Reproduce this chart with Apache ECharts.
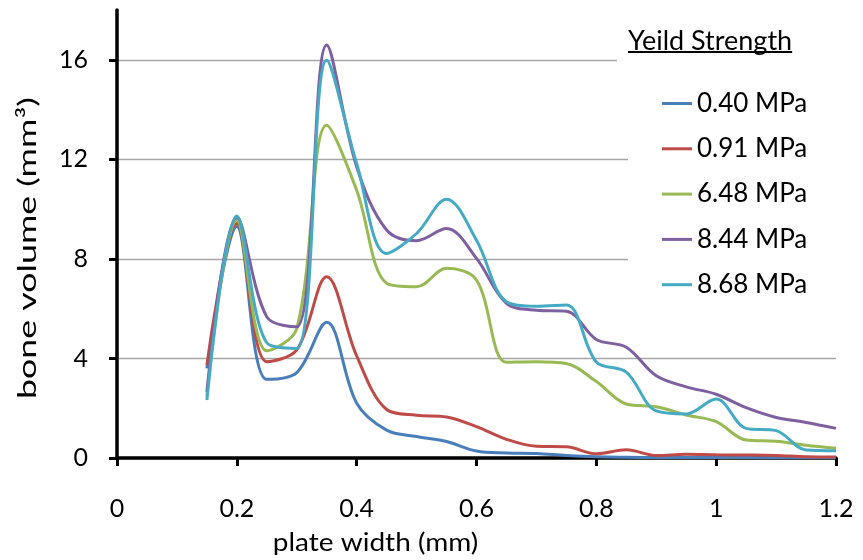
<!DOCTYPE html>
<html>
<head>
<meta charset="utf-8">
<script src="https://cdn.jsdelivr.net/npm/echarts@6/dist/echarts.min.js"></script>
<style>
  html, body { margin: 0; padding: 0; background: #fff; }
  #chart { width: 863px; height: 560px; }
</style>
</head>
<body>
<div id="chart"></div>
<script>
// plate width (mm) at which bone volume was sampled
const plateWidth = [0.15, 0.2, 0.25, 0.3, 0.35, 0.4, 0.45, 0.5, 0.55, 0.6, 0.65,
                    0.7, 0.75, 0.8, 0.85, 0.9, 0.95, 1.0, 1.05, 1.1, 1.15, 1.2];

// bone volume (mm³) for each yield strength
const vol040 = [3.6, 9.3, 3.16, 3.43, 5.45, 2.2, 1.12, 0.86, 0.66, 0.28, 0.2,
                0.18, 0.1, 0.05, 0.03, 0.02, 0.02, 0.02, 0.02, 0.01, 0.01, 0.01];
const vol091 = [3.73, 9.42, 3.87, 4.34, 7.28, 4.1, 1.95, 1.72, 1.65, 1.26, 0.75,
                0.47, 0.45, 0.17, 0.33, 0.1, 0.15, 0.13, 0.12, 0.1, 0.05, 0.04];
const vol648 = [2.5, 9.56, 4.31, 5.2, 13.37, 10.76, 7.02, 6.88, 7.62, 7.15, 3.85,
                3.87, 3.8, 3.07, 2.17, 2.06, 1.73, 1.46, 0.72, 0.67, 0.51, 0.39];
const vol844 = [2.66, 9.67, 5.67, 5.27, 16.59, 11.7, 9.16, 8.73, 9.22, 8.02, 6.21,
                5.94, 5.9, 4.76, 4.45, 3.3, 2.86, 2.56, 2.02, 1.63, 1.43, 1.19];
const vol868 = [2.33, 9.72, 4.63, 4.4, 15.98, 11.83, 8.22, 9.02, 10.4, 8.75, 6.28,
                6.1, 6.15, 3.86, 3.45, 1.89, 1.77, 2.37, 1.19, 1.1, 0.32, 0.29];

const seriesNames = ['0.40 MPa', '0.91 MPa', '6.48 MPa', '8.44 MPa', '8.68 MPa'];
const seriesValues = [vol040, vol091, vol648, vol844, vol868];
const seriesColors = ['#4A7EBB', '#BE4B48', '#98B954', '#7D60A0', '#46AAC5'];

const xTicks = [0, 0.2, 0.4, 0.6, 0.8, 1, 1.2];
const yTicks = [0, 4, 8, 12, 16];

const FONT = 'Lato';
const legendTitle = 'Yeild Strength';
const titleFont = '27px ' + FONT;

// width of the legend heading, for its underline
const measureCtx = document.createElement('canvas').getContext('2d');
measureCtx.font = titleFont;
const titleWidth = measureCtx.measureText(legendTitle).width;

const chart = echarts.init(document.getElementById('chart'), null, { renderer: 'canvas' });

chart.setOption({
  animation: false,
  backgroundColor: '#fff',
  grid: { left: 117, right: 27, top: 10, bottom: 102, containLabel: false },
  xAxis: {
    type: 'value',
    min: 0, max: 1.2, interval: 0.2,
    axisLine: { show: true, onZero: false, lineStyle: { color: '#000', width: 3.5 } },
    axisTick: { show: true, length: 8, customValues: xTicks, lineStyle: { color: '#000', width: 3 } },
    axisLabel: { customValues: xTicks, margin: 38, fontSize: 25, fontFamily: FONT, color: '#000', lineHeight: 25 },
    splitLine: { show: false }
  },
  yAxis: {
    type: 'value',
    min: 0, max: 18, interval: 4,
    axisLine: { show: true, lineStyle: { color: '#000', width: 3.5 } },
    axisTick: { show: true, length: 8, customValues: yTicks, lineStyle: { color: '#000', width: 3 } },
    axisLabel: { customValues: yTicks, margin: 29, fontSize: 25, fontFamily: FONT, color: '#000' },
    splitLine: { show: true, lineStyle: { color: '#a6a6a6', width: 1.3 } }
  },
  legend: {
    orient: 'vertical',
    left: 662, top: 90.5, padding: 0,
    icon: 'rect',
    itemWidth: 30, itemHeight: 3, itemGap: 19.3,
    textStyle: { fontSize: 26, fontFamily: FONT, color: '#000', lineHeight: 25 },
    data: seriesNames
  },
  graphic: [
    { type: 'rect', z: 1, shape: { x: 617, y: 40, width: 230, height: 36 }, style: { fill: '#fff' } },
    { type: 'rect', z: 1, shape: { x: 628, y: 76, width: 219, height: 224 }, style: { fill: '#fff' } },
    { type: 'text', z: 5, x: 628, y: 41,
      style: { text: legendTitle, font: titleFont, fill: '#000', verticalAlign: 'middle' } },
    { type: 'line', z: 5, shape: { x1: 628, y1: 52, x2: 628 + titleWidth, y2: 52 },
      style: { stroke: '#000', lineWidth: 2 } },
    { type: 'text', z: 5, x: 28, y: 248, rotation: Math.PI / 2, scaleX: 1.43,
      style: { text: 'bone volume (mm³)', font: '25px ' + FONT, fill: '#000', align: 'center', verticalAlign: 'middle' } },
    { type: 'text', z: 5, x: 375.5, y: 543, scaleX: 1.12,
      style: { text: 'plate width (mm)', font: '25px ' + FONT, fill: '#000', align: 'center', verticalAlign: 'middle' } }
  ],
  series: seriesNames.map((name, i) => ({
    name: name,
    type: 'line',
    smooth: 0.35,
    symbol: 'none',
    color: seriesColors[i],
    lineStyle: { width: 3, color: seriesColors[i] },
    data: plateWidth.map((x, j) => [x, seriesValues[i][j]])
  }))
});
</script>
</body>
</html>
